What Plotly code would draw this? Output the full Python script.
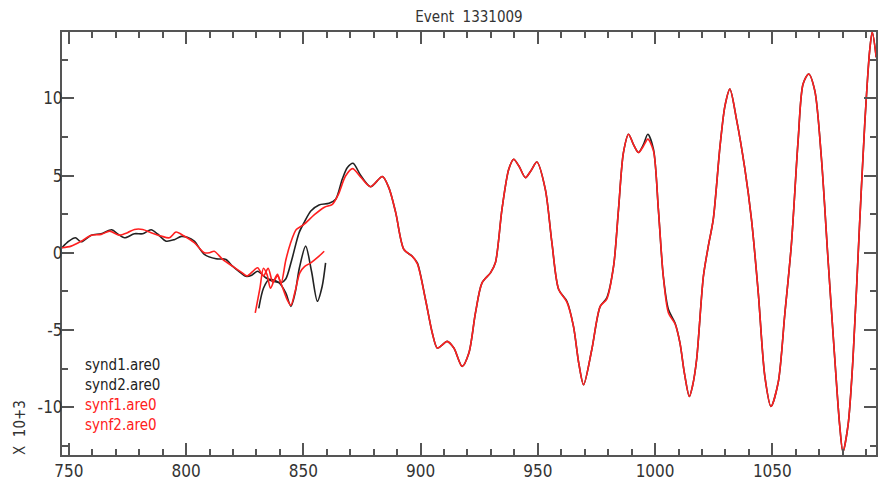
import plotly.graph_objects as go

# ---- data (values in units of 10^3) ----
synd1_x = [747, 750, 752.8, 755.3, 759.6, 763.8, 768.3, 771, 773.7, 778, 781.5, 785.1, 788, 791.5, 795, 798,
           800.5, 803.5, 807.8, 812.8, 817, 819.8, 822.5, 825.5, 828, 830.5, 834, 836.9, 839.7, 842.5, 844.7,
           846.5, 848.3, 851, 853.5, 856, 858, 859.5]
synd1_y = [0.32, 0.75, 0.97, 0.71, 1.14, 1.23, 1.49, 1.2, 0.97, 1.23, 1.23, 1.49, 1.2, 0.75, 0.85, 1.06,
           1.0, 0.75, -0.11, -0.39, -0.43, -0.87, -1.2, -1.52, -1.45, -1.2, -1.62, -1.84, -1.95, -2.6, -3.47,
           -2.6, -1.0, 0.43, -1.2, -3.14, -2.2, -0.65]

synd2_x = [831, 833, 835.4, 838, 840.4, 842.5, 845, 848.2, 850.5, 853.2, 856.7, 861, 863.8, 866.6, 868.8,
           871.2, 874.5, 878.7, 883.7, 886.5, 889.4, 892.9, 896.4, 898.6, 902.1, 905, 907.1, 909, 911.3,
           914.2, 917.7, 920.6, 923.4, 926.2, 929.8, 931.9, 934.7, 937.6, 939.7, 942, 944.7, 947, 949.6,
           953.2, 956, 958.9, 962.4, 965.2, 967.5, 969.5, 973, 976.6, 979.4, 982.3, 984.4, 986.5, 988.7,
           990.8, 992.9, 995, 996.9, 999.3, 1001.4, 1003.5, 1005.7, 1008.5, 1010.6, 1012.5, 1014.6, 1016,
           1017.7, 1020.6, 1022.7, 1024.8, 1027.7, 1029.8, 1031.9, 1034.7, 1038.3, 1041.1, 1044, 1046.8,
           1049.4, 1052.5, 1055.3, 1058.1, 1061, 1063.1, 1065.5, 1068.1, 1070.9, 1073.7, 1076.6, 1078.7,
           1080.1, 1082.3, 1084.4, 1087.2, 1089.4, 1091.5, 1092.6, 1094.3]
synd2_y = [-3.6, -2.3, -1.73, -1.8, -1.95, -1.7, -0.5, 1.3, 2.0, 2.7, 3.1, 3.2, 3.46, 4.76, 5.52,
           5.8, 5.0, 4.28, 4.94, 4.2, 2.6, 0.21, -0.22, -0.65, -3.03, -5.2, -6.17, -6.0, -5.74,
           -6.17, -7.36, -6.49, -3.9, -1.95, -1.3, -0.65, 2.81, 5.41, 6.06, 5.6, 4.87, 5.3, 5.88,
           4.11, 0.65, -2.38, -3.14, -4.77, -7.2, -8.55, -6.28, -3.47, -2.92, -0.87, 2.81, 6.49, 7.68,
           7.0, 6.49, 7.0, 7.68, 6.71, 2.81, -1.52, -3.68, -4.55, -5.84, -7.8, -9.31, -8.6,
           -6.93, -1.52, 0.43, 2.16, 6.92, 9.52, 10.6, 8.66, 5.41, 2.16, -2.6, -8.01,
           -9.96, -8.4, -4.0, 0.5, 7.3, 10.93, 11.58, 10.5, 6.17, -0.32, -6.82, -11.15,
           -12.9, -11.15, -6.82, 1.84, 8.33, 13.09, 14.3, 12.66]

synf1_x = [747, 751, 755.3, 759.6, 763.8, 767.4, 771.6, 775, 778, 781.5, 785.1, 789.4, 792.9, 795.7, 799,
           803.5, 807.8, 810, 812, 815.6, 819.8, 824, 826, 828.5, 830.5, 833, 835, 837, 839, 841, 843,
           844.7, 846.5, 848.5, 850.5, 853.2, 856.7, 858.9]
synf1_y = [0.32, 0.43, 0.75, 1.14, 1.19, 1.4, 1.14, 1.3, 1.51, 1.51, 1.3, 1.08, 0.97, 1.34, 1.1,
           0.65, 0.0, 0.0, 0.1, -0.43, -0.87, -1.3, -1.5, -1.2, -0.97, -1.5, -1.0, -1.9, -1.5, -2.2, -3.0,
           -3.4, -2.5, -1.3, -0.9, -0.65, -0.22, 0.1]

synf2_x = [829.5, 831.5, 833, 834.5, 836, 837.5, 839, 840.5, 842.5, 844.5, 847, 850, 855, 859, 862.4,
           865, 868, 871, 874.5, 878.7, 883.7, 886.5, 889.4, 892.9, 896.4, 898.6, 902.1, 905, 907.1, 909,
           911.3, 914.2, 917.7, 920.6, 923.4, 926.2, 929.8, 931.9, 934.7, 937.6, 939.7, 942, 944.7, 947,
           949.6, 953.2, 956, 958.9, 962.4, 965.2, 967.5, 969.5, 973, 976.6, 979.4, 982.3, 984.4, 986.5,
           988.7, 990.8, 992.9, 995, 996.9, 999.3, 1001.4, 1003.5, 1005.7, 1008.5, 1010.6, 1012.5, 1014.6,
           1016, 1017.7, 1020.6, 1022.7, 1024.8, 1027.7, 1029.8, 1031.9, 1034.7, 1038.3, 1041.1, 1044,
           1046.8, 1049.4, 1052.5, 1055.3, 1058.1, 1061, 1063.1, 1065.5, 1068.1, 1070.9, 1073.7, 1076.6,
           1078.7, 1080.1, 1082.3, 1084.4, 1087.2, 1089.4, 1091.5, 1092.6, 1094.3]
synf2_y = [-3.9, -2.3, -1.0, -1.4, -2.3, -1.8, -1.4, -2.0, -0.5, 0.6, 1.5, 1.8, 2.5, 2.95, 3.14,
           3.8, 4.97, 5.45, 4.9, 4.28, 4.94, 4.2, 2.6, 0.21, -0.22, -0.7, -3.03, -5.2, -6.17, -6.0,
           -5.74, -6.17, -7.36, -6.49, -3.9, -1.95, -1.3, -0.65, 2.81, 5.41, 6.06, 5.6, 4.87, 5.3,
           5.88, 4.11, 0.65, -2.38, -3.2, -4.77, -7.2, -8.55, -6.28, -3.47, -3.0, -0.87, 2.81, 6.49,
           7.68, 7.0, 6.49, 6.9, 7.36, 6.6, 2.81, -1.52, -3.9, -4.6, -5.84, -7.8, -9.31, -8.6,
           -6.93, -1.52, 0.43, 2.16, 6.92, 9.52, 10.6, 8.66, 5.41, 2.16, -2.6, -8.01,
           -9.96, -8.4, -4.0, 0.5, 7.3, 10.93, 11.58, 10.5, 6.17, -0.32, -6.82,
           -11.15, -12.9, -11.15, -6.82, 1.84, 8.33, 13.09, 14.3, 12.66]

x_ticks = [750, 800, 850, 900, 950, 1000, 1050]
y_ticks = [-10, -5, 0, 5, 10]
y_tick_text = ["-10", "-5", "0", "5", "10"]
legend_names = ["synd1.are0", "synd2.are0", "synf1.are0", "synf2.are0"]
legend_colors = ["#222222", "#222222", "#ff2020", "#ff2020"]
title_text = "Event  1331009"
scale_label = "X  10+3"

FONT = "Liberation Sans Narrow, DejaVu Sans Condensed, Arial Narrow, sans-serif"
BLACK = "#222222"
RED = "#ff2020"

fig = go.Figure()
series = [(synd1_x, synd1_y, BLACK, legend_names[0]),
          (synd2_x, synd2_y, BLACK, legend_names[1]),
          (synf1_x, synf1_y, RED, legend_names[2]),
          (synf2_x, synf2_y, RED, legend_names[3])]
for xs, ys, col, name in series:
    fig.add_trace(go.Scatter(x=xs, y=ys, mode="lines", name=name,
                             line=dict(color=col, width=1.6, shape="spline", smoothing=0.8),
                             showlegend=False))

axis_common = dict(showline=True, linewidth=2, linecolor="#555555", mirror="ticks",
                   ticks="inside", ticklen=12, tickwidth=2, tickcolor="#555555",
                   showgrid=False, zeroline=False,
                   tickfont=dict(family=FONT, size=17, color="#333333"))

fig.update_xaxes(range=[747.1, 1094.2], tickvals=x_ticks,
                 minor=dict(dtick=10, tick0=750, ticks="inside", ticklen=6, tickwidth=2, tickcolor="#555555"),
                 **axis_common)
fig.update_yaxes(range=[-13.1, 14.3], tickvals=y_ticks, ticktext=y_tick_text,
                 ticklabelstandoff=-6,
                 minor=dict(dtick=2.5, tick0=0, ticks="inside", ticklen=6, tickwidth=2, tickcolor="#555555"),
                 **axis_common)

ys_leg = [0.2128, 0.1655, 0.1182, 0.0709]
for name, col, yy in zip(legend_names, legend_colors, ys_leg):
    fig.add_annotation(text=name, xref="paper", yref="paper", x=0.0254, y=yy,
                       xanchor="left", yanchor="middle", showarrow=False,
                       font=dict(family=FONT, size=15, color=col))

fig.add_annotation(text=scale_label, xref="paper", yref="paper", x=-0.0515, y=0.064,
                   textangle=-90, xanchor="center", yanchor="middle", showarrow=False,
                   font=dict(family=FONT, size=15, color="#333333"))

fig.update_layout(
    width=881, height=488,
    margin=dict(l=62, r=3, t=32, b=33),
    paper_bgcolor="white", plot_bgcolor="white",
    title=dict(text=title_text, x=0.5, xref="paper", xanchor="center",
               y=1 - 17 / 488, yref="container", yanchor="middle",
               font=dict(family=FONT, size=15, color="#333333")),
)

fig.write_html("out.html")
